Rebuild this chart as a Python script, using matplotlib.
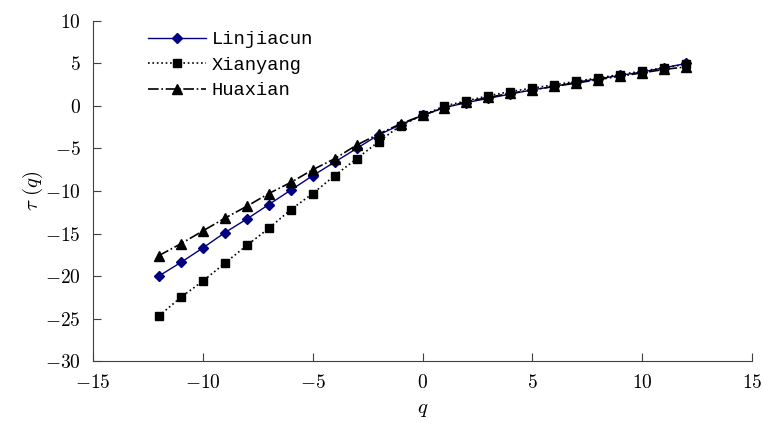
import matplotlib
matplotlib.use("Agg")
import matplotlib.pyplot as plt
from matplotlib.ticker import FuncFormatter
import numpy as np

# q values and tau(q) for each station
q = np.arange(-12, 13)
linjiacun = [-20.0, -18.4, -16.7, -14.9, -13.3, -11.6, -9.9, -8.2, -6.6, -5.0, -3.4, -2.2, -1.1,
             -0.2, 0.4, 0.9, 1.4, 1.9, 2.3, 2.8, 3.2, 3.6, 4.0, 4.5, 5.0]
xianyang = [-24.7, -22.5, -20.6, -18.5, -16.4, -14.4, -12.2, -10.3, -8.2, -6.2, -4.2, -2.3, -1.1,
            0.0, 0.6, 1.2, 1.7, 2.1, 2.5, 2.9, 3.3, 3.7, 4.1, 4.5, 4.9]
huaxian = [-17.6, -16.2, -14.7, -13.2, -11.8, -10.3, -9.0, -7.5, -6.2, -4.6, -3.3, -2.1, -1.1,
           -0.2, 0.5, 1.0, 1.5, 1.9, 2.3, 2.7, 3.1, 3.5, 3.9, 4.3, 4.6]

plt.rcParams['font.family'] = ['Liberation Serif', 'DejaVu Serif']
plt.rcParams['mathtext.fontset'] = 'cm'

fig = plt.figure(figsize=(7.63, 4.28), dpi=100)
ax = fig.add_axes([0.1219, 0.1565, 0.8637, 0.7945])

ax.plot(q, linjiacun, '-', color='#000080', lw=1.0, marker='D', ms=5, label='Linjiacun')
ax.plot(q, xianyang, ':', color='black', lw=1.2, marker='s', ms=6, label='Xianyang')
ax.plot(q, huaxian, '-.', color='black', lw=1.2, marker='^', ms=7, label='Huaxian')

ax.set_xlim(-15, 15)
ax.set_ylim(-30, 10)
ax.set_xticks(np.arange(-15, 16, 5))
ax.set_yticks(np.arange(-30, 11, 5))
fmt = FuncFormatter(lambda v, p: r'$%d$' % v)
ax.xaxis.set_major_formatter(fmt)
ax.yaxis.set_major_formatter(fmt)
ax.spines['top'].set_visible(False)
ax.spines['right'].set_visible(False)
for s in ['left', 'bottom']:
    ax.spines[s].set_color('#404040')
ax.tick_params(direction='in', length=6, labelsize=14, color='#404040', pad=9)

ax.set_xlabel(r'$q$', fontsize=15, labelpad=6)
ax.set_ylabel(r'$\tau\ (q)$', fontsize=15, labelpad=0)

leg = ax.legend(loc='upper left', bbox_to_anchor=(0.058, 1.02), frameon=False,
                handlelength=3.1, handletextpad=0.3, labelspacing=0.45,
                prop={'family': 'Liberation Mono', 'size': 13.5})

fig.savefig('out.png', dpi=100)
